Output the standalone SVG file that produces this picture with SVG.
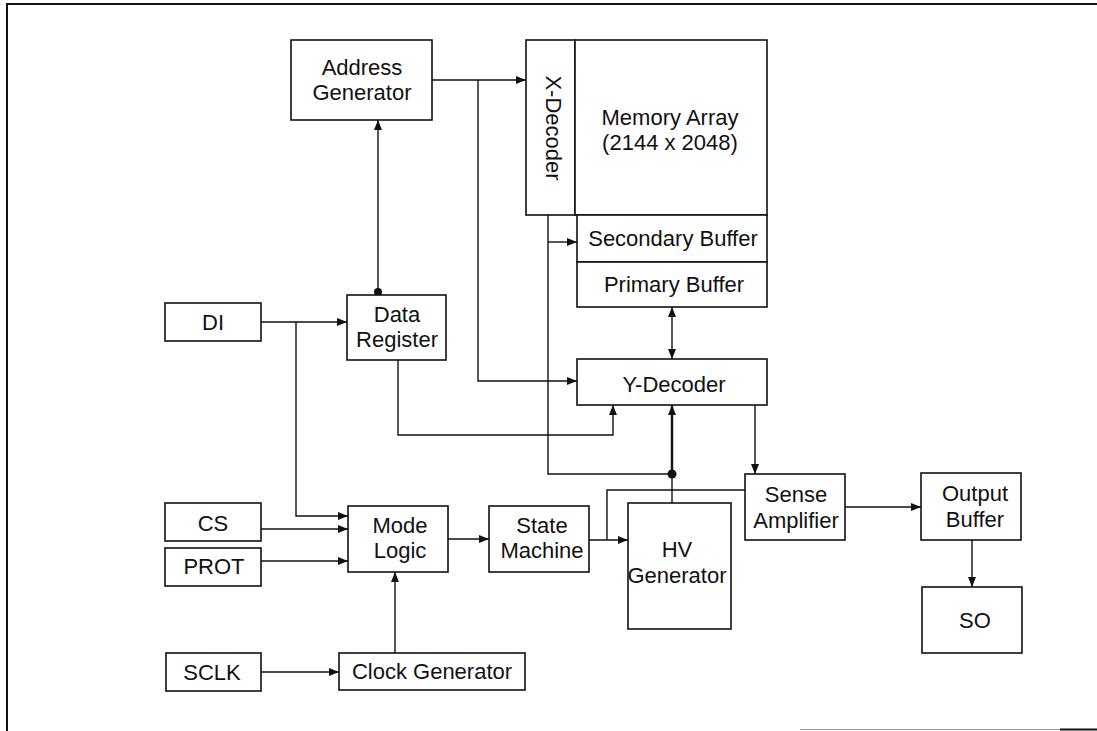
<svg xmlns="http://www.w3.org/2000/svg" width="1097" height="731" viewBox="0 0 1097 731">
<style>
  .box{fill:#fff;stroke:#111;stroke-width:1.6}
  .t{font-family:"Liberation Sans",Arial,sans-serif;font-size:22px;fill:#111;text-anchor:middle}
  .c{fill:none;stroke:#111;stroke-width:1.4}
  .thick{fill:none;stroke:#111;stroke-width:2.4}
  .frame{fill:none;stroke:#111;stroke-width:2}
</style>
<defs>
  <marker id="arr" viewBox="0 0 10 8" refX="10" refY="4" markerWidth="10" markerHeight="8" markerUnits="userSpaceOnUse" orient="auto">
    <path d="M0,0 L10,4 L0,8 Z" fill="#111"/>
  </marker>
  <marker id="arrs" viewBox="0 0 10 8" refX="10" refY="4" markerWidth="10" markerHeight="8" markerUnits="userSpaceOnUse" orient="auto-start-reverse">
    <path d="M0,0 L10,4 L0,8 Z" fill="#111"/>
  </marker>
</defs>
<rect width="1097" height="731" fill="#fff"/>
<g id="frame">
  <path class="frame" d="M7,731 L7,4 L1097,4"/>
  <path d="M800,729.5 L1060,729.5" stroke="#999" stroke-width="1.2"/>
  <path d="M1060,729.5 L1097,729.5" stroke="#111" stroke-width="2"/>
</g>
<g id="connectors">
  <path class="c" d="M432,80 L526,80" marker-end="url(#arr)"/>
  <path class="c" d="M478,80 L478,381 L577,381" marker-end="url(#arr)"/>
  <path class="c" d="M378,293 L378,120" marker-end="url(#arr)"/>
  <circle cx="378" cy="292" r="4" fill="#111"/>
  <path class="c" d="M261,322 L347,322" marker-end="url(#arr)"/>
  <path class="c" d="M296,322 L296,516 L348,516" marker-end="url(#arr)"/>
  <path class="c" d="M398,360 L398,435 L613,435 L613,405" marker-end="url(#arr)"/>
  <path class="c" d="M548,215 L548,474 L672,474"/>
  <path class="c" d="M548,242 L577,242" marker-end="url(#arr)"/>
  <path class="c" d="M672,307 L672,359" marker-start="url(#arrs)" marker-end="url(#arrs)"/>
  <path class="thick" d="M672,474 L672,405" marker-end="url(#arr)"/>
  <path class="c" d="M672,503 L672,474"/>
  <circle cx="672" cy="474" r="4.5" fill="#111"/>
  <path class="c" d="M755,405 L755,474" marker-end="url(#arr)"/>
  <path class="c" d="M589,540 L628,540" marker-end="url(#arr)"/>
  <path class="c" d="M607,540 L607,490 L745,490"/>
  <path class="c" d="M845,507 L921,507" marker-end="url(#arr)"/>
  <path class="c" d="M972,540 L972,587" marker-end="url(#arr)"/>
  <path class="c" d="M261,529 L348,529" marker-end="url(#arr)"/>
  <path class="c" d="M261,561 L348,561" marker-end="url(#arr)"/>
  <path class="c" d="M448,539 L489,539" marker-end="url(#arr)"/>
  <path class="c" d="M395,653 L395,572" marker-end="url(#arr)"/>
  <path class="c" d="M261,672 L339,672" marker-end="url(#arr)"/>
</g>
<g id="address-generator">
  <rect class="box" x="291" y="40" width="141" height="80"/>
  <text class="t" x="362" y="75">Address</text>
  <text class="t" x="362" y="100">Generator</text>
</g>
<g id="x-decoder">
  <rect class="box" x="526" y="40" width="49" height="175"/>
  <text class="t" transform="translate(546,128) rotate(90)">X-Decoder</text>
</g>
<g id="memory-array">
  <rect class="box" x="575" y="40" width="192" height="175"/>
  <text class="t" x="670" y="125">Memory Array</text>
  <text class="t" x="670" y="150">(2144 x 2048)</text>
</g>
<g id="secondary-buffer">
  <rect class="box" x="577" y="215" width="190" height="47"/>
  <text class="t" x="673" y="246">Secondary Buffer</text>
</g>
<g id="primary-buffer">
  <rect class="box" x="577" y="262" width="190" height="45"/>
  <text class="t" x="674" y="292">Primary Buffer</text>
</g>
<g id="di">
  <rect class="box" x="165" y="303" width="96" height="38"/>
  <text class="t" x="213" y="330">DI</text>
</g>
<g id="data-register">
  <rect class="box" x="347" y="295" width="99" height="65"/>
  <text class="t" x="397" y="322">Data</text>
  <text class="t" x="397" y="347">Register</text>
</g>
<g id="y-decoder">
  <rect class="box" x="577" y="359" width="190" height="46"/>
  <text class="t" x="674" y="392">Y-Decoder</text>
</g>
<g id="cs">
  <rect class="box" x="165" y="503" width="96" height="38"/>
  <text class="t" x="213" y="531">CS</text>
</g>
<g id="prot">
  <rect class="box" x="165" y="548" width="96" height="38"/>
  <text class="t" x="214" y="574">PROT</text>
</g>
<g id="mode-logic">
  <rect class="box" x="348" y="506" width="100" height="66"/>
  <text class="t" x="400" y="533">Mode</text>
  <text class="t" x="400" y="558">Logic</text>
</g>
<g id="state-machine">
  <rect class="box" x="489" y="506" width="100" height="66"/>
  <text class="t" x="542" y="533">State</text>
  <text class="t" x="542" y="558">Machine</text>
</g>
<g id="hv-generator">
  <rect class="box" x="628" y="503" width="103" height="126"/>
  <text class="t" x="677" y="557">HV</text>
  <text class="t" x="677" y="583">Generator</text>
</g>
<g id="sense-amplifier">
  <rect class="box" x="745" y="474" width="100" height="66"/>
  <text class="t" x="796" y="502">Sense</text>
  <text class="t" x="796" y="528">Amplifier</text>
</g>
<g id="output-buffer">
  <rect class="box" x="921" y="473" width="100" height="67"/>
  <text class="t" x="975" y="501">Output</text>
  <text class="t" x="975" y="527">Buffer</text>
</g>
<g id="so">
  <rect class="box" x="922" y="587" width="100" height="66"/>
  <text class="t" x="975" y="628">SO</text>
</g>
<g id="sclk">
  <rect class="box" x="166" y="653" width="95" height="38"/>
  <text class="t" x="212" y="680">SCLK</text>
</g>
<g id="clock-generator">
  <rect class="box" x="339" y="653" width="186" height="37"/>
  <text class="t" x="432" y="679">Clock Generator</text>
</g>
</svg>
